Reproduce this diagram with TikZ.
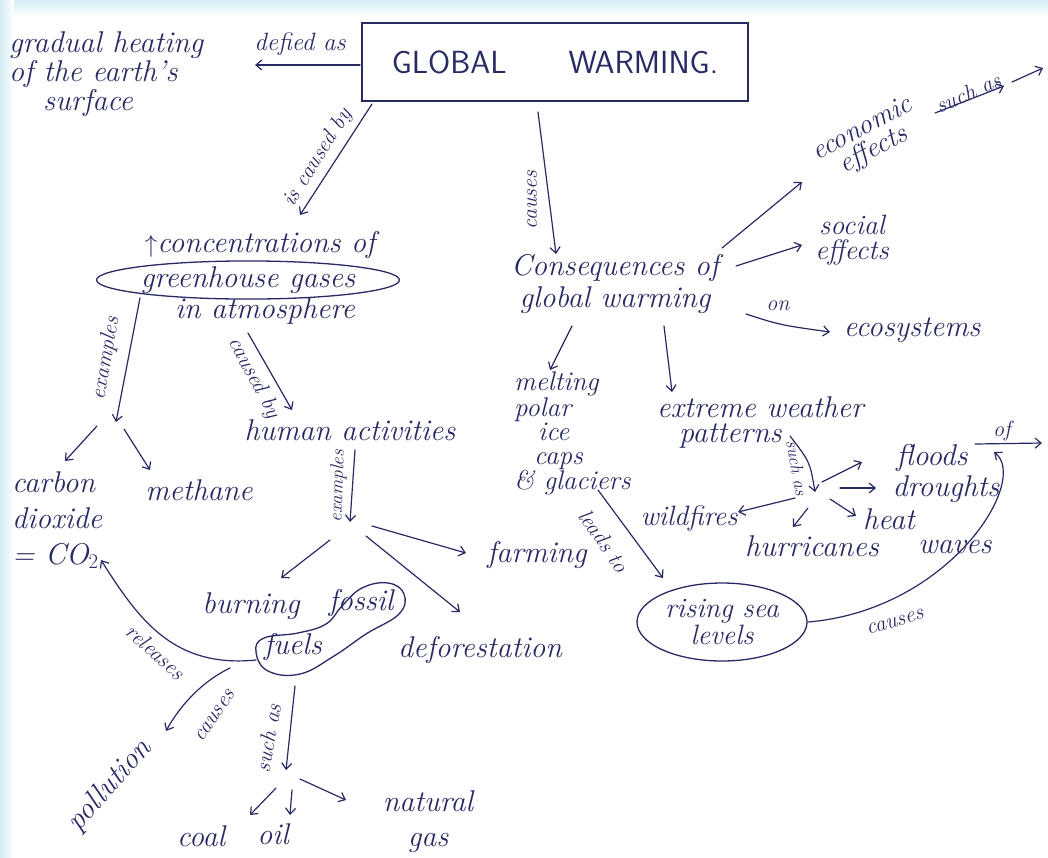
\documentclass[tikz,border=0pt]{standalone}
\usetikzlibrary{arrows.meta,shapes.geometric}
\definecolor{ink}{RGB}{40,42,100}
\definecolor{edgeblue}{RGB}{212,236,242}
\begin{document}
\begin{tikzpicture}[x=1pt,y=-1pt,
  txt/.style={text=ink, font=\fontsize{30}{29}\selectfont\itshape, inner sep=0pt, align=center},
  lbl/.style={text=ink, font=\fontsize{22}{22}\selectfont\itshape, inner sep=0pt},
  link/.style={draw=ink, line width=1.2pt, line cap=round, -{Straight Barb[length=6pt,width=10pt]}},
  rim/.style={draw=ink, line width=1.3pt}]

% paper and photographed edges
\useasboundingbox (0,0) rectangle (1048,857);
\fill[white] (0,0) rectangle (1048,857);
\shade[top color=edgeblue, bottom color=white] (0,0) rectangle (1048,16);
\shade[left color=edgeblue, right color=white] (0,0) rectangle (14,857);

% ---------- nodes ----------
\node[rim, minimum width=386pt, minimum height=78pt, inner sep=0pt, text=ink,
      font=\sffamily\fontsize{32}{32}\selectfont] (gw) at (555,62) {GLOBAL\hspace{62pt}WARMING.};
\node[txt, align=left, anchor=north west] (grad) at (9,31) {gradual heating\\of the earth's\\\hspace{34pt}surface};

\node[txt] (conc) at (260,245) {$\uparrow$concentrations of};
\node[txt, rim, ellipse, minimum width=244pt, minimum height=36pt] (ghg) at (248,280) {greenhouse gases};
\node[txt] (atm) at (265,311) {in atmosphere};

\node[txt, align=left, anchor=north west, font=\fontsize{30}{36}\selectfont\itshape] (co2) at (12,471) {carbon\\dioxide\\= CO$_2$};
\node[txt] (meth) at (199,490) {methane};
\node[txt] (hum) at (350,430) {human activities};
\node[txt] (farm) at (537,555) {farming};
\node[txt] (burn) at (251,606) {burning};
\node[txt] (fossil) at (361,603) {fossil};
\node[txt] (fuels) at (293,647) {fuels};
\node[txt] (defor) at (480,650) {deforestation};
\node[txt, rotate=48] (poll) at (110,786) {pollution};
\node[txt] (coal) at (201,836) {coal};
\node[txt] (oil) at (273,834) {oil};
\node[txt, font=\fontsize{30}{35}\selectfont\itshape] (gas) at (428,822) {natural\\gas};

\node[txt, font=\fontsize{30}{32}\selectfont\itshape] (cons) at (615,284) {Consequences of\\global warming};
\node[txt, rotate=28, font=\fontsize{28}{24}\selectfont\itshape] (econ) at (868,140) {economic\\effects};
\node[txt, font=\fontsize{28}{25}\selectfont\itshape] (social) at (852,240) {social\\effects};
\node[txt] (eco) at (912,330) {ecosystems};
\node[txt, align=left, anchor=north west, font=\fontsize{27}{24}\selectfont\itshape] (melt) at (514,372)
  {melting\\polar\\\hspace{24pt}ice\\\hspace{20pt}caps\\\& glaciers};
\node[txt, align=left, anchor=north west, font=\fontsize{30}{25}\selectfont\itshape] (ext) at (657,396) {extreme weather\\\hspace{22pt}patterns};
\node[txt] (floods) at (932,458) {floods};
\node[txt] (drought) at (946,489) {droughts};
\node[txt, align=left, anchor=north west, font=\fontsize{30}{24}\selectfont\itshape] (heat) at (863,508) {heat\\\hspace{55pt}waves};
\node[txt] (hurr) at (812,546) {hurricanes};
\node[txt, font=\fontsize{28}{28}\selectfont\itshape] (wild) at (689,518) {wildfires};
\node[txt, rim, ellipse, minimum width=170pt, minimum height=78pt, font=\fontsize{28}{27}\selectfont\itshape] (rsl) at (722,622) {rising sea\\levels};

% outline around "fossil fuels"
\draw[rim] plot[smooth cycle, tension=0.7] coordinates {
  (256,652) (268,671) (300,674) (334,656) (366,634) (399,614) (404,594)
  (388,583) (362,588) (342,606) (326,624) (298,633) (264,638)};

% ---------- connector end points ----------
\coordinate (a1) at (360,65);   \coordinate (a2) at (255,65);
\coordinate (b1) at (372,104);  \coordinate (b2) at (300,215);
\coordinate (c1) at (538,112);  \coordinate (c2) at (556,254);
\coordinate (e1) at (140,298);  \coordinate (e2) at (116,422);
\coordinate (e3) at (97,426);   \coordinate (e4) at (65,461);
\coordinate (e5) at (124,429);  \coordinate (e6) at (150,470);
\coordinate (h1) at (248,333);  \coordinate (h2) at (292,410);
\coordinate (x1) at (355,450);  \coordinate (x2) at (350,522);
\coordinate (x3) at (330,540);  \coordinate (x4) at (281,578);
\coordinate (x5) at (366,536);  \coordinate (x6) at (460,612);
\coordinate (x7) at (372,526);  \coordinate (x8) at (466,553);
\coordinate (r1) at (256,660);  \coordinate (r2) at (101,560);
\coordinate (p1) at (230,668);  \coordinate (p2) at (166,731);
\coordinate (s1) at (295,686);  \coordinate (s2) at (286,770);
\coordinate (s3) at (276,788);  \coordinate (s4) at (250,815);
\coordinate (s5) at (292,790);  \coordinate (s6) at (290,815);
\coordinate (s7) at (300,779);  \coordinate (s8) at (346,800);
\coordinate (k1) at (722,248);  \coordinate (k2) at (802,182);
\coordinate (k3) at (736,266);  \coordinate (k4) at (802,245);
\coordinate (k5) at (746,314);  \coordinate (k6) at (830,332);
\coordinate (k7) at (572,326);  \coordinate (k8) at (550,370);
\coordinate (k9) at (664,326);  \coordinate (k10) at (672,392);
\coordinate (m1) at (935,113);  \coordinate (m2) at (1004,86);
\coordinate (m3) at (1012,82);  \coordinate (m4) at (1043,68);
\coordinate (l1) at (598,490);  \coordinate (l2) at (663,578);
\coordinate (w1) at (790,436);  \coordinate (w2) at (815,492);
\coordinate (w3) at (822,482);  \coordinate (w4) at (862,462);
\coordinate (w5) at (840,488);  \coordinate (w6) at (876,488);
\coordinate (w7) at (830,499);  \coordinate (w8) at (856,516);
\coordinate (w9) at (808,508);  \coordinate (w10) at (793,527);
\coordinate (w11) at (795,498); \coordinate (w12) at (738,512);
\coordinate (f1) at (975,444);  \coordinate (f2) at (1042,443);
\coordinate (q1) at (808,622);  \coordinate (q2) at (994,452);

% ---------- connectors ----------
\draw[link] (a1) -- (a2);
\draw[link] (b1) -- (b2);
\draw[link] (c1) -- (c2);
\draw[link] (e1) -- (e2);
\draw[link] (e3) -- (e4);
\draw[link] (e5) -- (e6);
\draw[link] (h1) -- (h2);
\draw[link] (x1) -- (x2);
\draw[link] (x3) -- (x4);
\draw[link] (x5) -- (x6);
\draw[link] (x7) -- (x8);
\draw[link] (r1) .. controls (175,668) and (140,622) .. (r2);
\draw[link] (p1) .. controls (205,680) and (182,702) .. (p2);
\draw[link] (s1) -- (s2);
\draw[link] (s3) -- (s4);
\draw[link] (s5) -- (s6);
\draw[link] (s7) -- (s8);
\draw[link] (k1) -- (k2);
\draw[link] (k3) -- (k4);
\draw[link] (k5) .. controls (780,325) .. (k6);
\draw[link] (k7) -- (k8);
\draw[link] (k9) -- (k10);
\draw[link] (m1) -- (m2);
\draw[link] (m3) -- (m4);
\draw[link] (l1) -- (l2);
\draw[link] (w1) .. controls (810,462) .. (w2);
\draw[link] (w3) -- (w4);
\draw[link] (w5) -- (w6);
\draw[link] (w7) -- (w8);
\draw[link] (w9) -- (w10);
\draw[link] (w11) -- (w12);
\draw[link] (f1) -- (f2);
\draw[link] (q1) .. controls (950,610) and (1030,480) .. (q2);

% ---------- connector labels ----------
\node[lbl, font=\fontsize{25}{25}\selectfont\itshape] (t1) at (300,44) {defied as};
\node[lbl, rotate=58] (t2) at (318,158) {is caused by};
\node[lbl, rotate=90] (t3) at (532,200) {causes};
\node[lbl, rotate=80] (t4) at (106,358) {examples};
\node[lbl, rotate=-62] (t5) at (254,378) {caused by};
\node[lbl, rotate=88, font=\fontsize{19}{19}\selectfont\itshape] (t6) at (338,486) {examples};
\node[lbl, rotate=-42] (t7) at (156,652) {releases};
\node[lbl, rotate=55] (t8) at (215,716) {causes};
\node[lbl, rotate=80] (t9) at (268,738) {such as};
\node[lbl, rotate=24] (t10) at (968,93) {such as};
\node[lbl] (t11) at (778,306) {on};
\node[lbl, rotate=-55] (t12) at (604,541) {leads to};
\node[lbl, rotate=-80, font=\fontsize{18}{18}\selectfont\itshape] (t13) at (797,468) {such as};
\node[lbl] (t14) at (1002,431) {of};
\node[lbl, rotate=16] (t15) at (895,622) {causes};

\end{tikzpicture}
\end{document}
